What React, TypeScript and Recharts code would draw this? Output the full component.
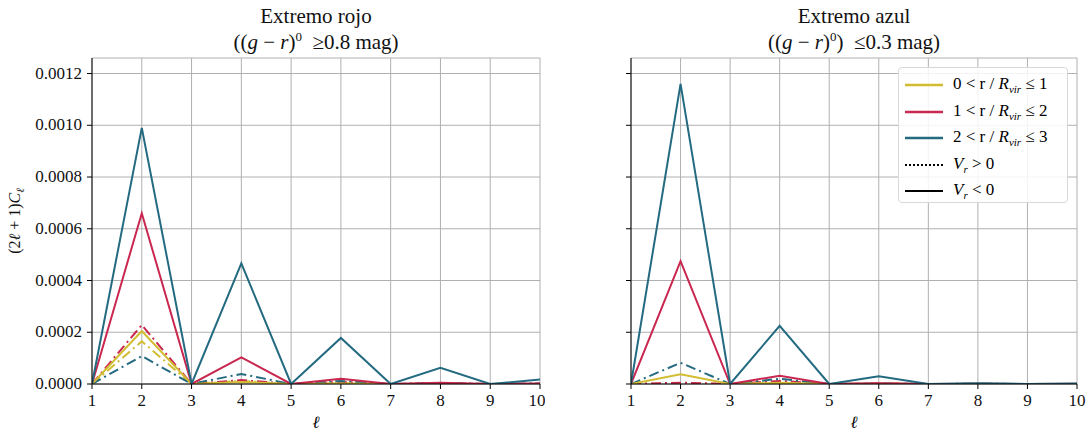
import React from "react";
import {
  LineChart,
  Line,
  XAxis,
  YAxis,
  CartesianGrid,
} from "recharts";

// multipolo l
const ells = [1, 2, 3, 4, 5, 6, 7, 8, 9, 10];
const yTicks = [0, 0.0002, 0.0004, 0.0006, 0.0008, 0.001, 0.0012];

// Extremo rojo
const rojoAmarilloNeg = [0, 0.000205, 0, 0.000008, 0, 0.000002, 0, 0.000001, 0, 0];
const rojoAmarilloPos = [0, 0.000165, 0, 0.000012, 0, 0.000003, 0, 0.000001, 0, 0];
const rojoRojoNeg = [0, 0.00066, 0, 0.000103, 0, 0.00002, 0, 0.000005, 0, 0.000002];
const rojoRojoPos = [0, 0.000228, 0, 0.000015, 0, 0.000008, 0, 0.000003, 0, 0.000001];
const rojoAzulNeg = [0, 0.00099, 0, 0.000466, 0, 0.000178, 0, 0.000063, 0, 0.000017];
const rojoAzulPos = [0, 0.000108, 0, 0.000039, 0, 0.000012, 0, 0.000004, 0, 0.000002];

// Extremo azul
const azulAmarilloNeg = [0, 0.000038, 0, 0.000005, 0, 0.000001, 0, 0, 0, 0];
const azulAmarilloPos = [0, 0.000003, 0, 0.000008, 0, 0.000001, 0, 0, 0, 0];
const azulRojoNeg = [0, 0.000475, 0, 0.000032, 0, 0.000003, 0, 0.000001, 0, 0.000001];
const azulRojoPos = [0, 0.000005, 0, 0.000012, 0, 0.000002, 0, 0, 0, 0];
const azulAzulNeg = [0, 0.00116, 0, 0.000225, 0, 0.00003, 0, 0.000003, 0, 0.000002];
const azulAzulPos = [0, 0.000082, 0, 0.00002, 0, 0.000002, 0, 0.000001, 0, 0];

const AMARILLO = "#d2bd32";
const ROJO = "#c9274f";
const AZUL = "#246a80";
const DASHDOT = "10 4 2 4";
const FONT = "'Liberation Serif', 'DejaVu Serif', serif";

const buildRows = (series: number[][]) =>
  ells.map((l, i) => ({
    l,
    ys: series[0][i],
    yd: series[1][i],
    rs: series[2][i],
    rd: series[3][i],
    ts: series[4][i],
    td: series[5][i],
  }));

const rojoData = buildRows([
  rojoAmarilloNeg,
  rojoAmarilloPos,
  rojoRojoNeg,
  rojoRojoPos,
  rojoAzulNeg,
  rojoAzulPos,
]);
const azulData = buildRows([
  azulAmarilloNeg,
  azulAmarilloPos,
  azulRojoNeg,
  azulRojoPos,
  azulAzulNeg,
  azulAzulPos,
]);

const lines = [
  { key: "yd", color: AMARILLO, dash: DASHDOT },
  { key: "rd", color: ROJO, dash: DASHDOT },
  { key: "td", color: AZUL, dash: DASHDOT },
  { key: "ys", color: AMARILLO, dash: undefined },
  { key: "rs", color: ROJO, dash: undefined },
  { key: "ts", color: AZUL, dash: undefined },
];

// ticks dibujados a mano para forzar la fuente serif
const XTick = ({ x, y, payload }: any) => (
  <text x={x} y={y + 15} textAnchor="middle" fontFamily={FONT} fontSize={17} fill="#111">
    {payload.value}
  </text>
);

const YTick = ({ x, y, payload }: any) => (
  <text x={x - 3} y={y + 5} textAnchor="end" fontFamily={FONT} fontSize={17} fill="#111">
    {Number(payload.value).toFixed(4)}
  </text>
);

const Panel = ({
  data,
  width,
  margin,
  showYLabels,
}: {
  data: any[];
  width: number;
  margin: { top: number; right: number; left: number; bottom: number };
  showYLabels: boolean;
}) => (
  <LineChart width={width} height={435} data={data} margin={margin}>
    <CartesianGrid stroke="#b0b0b0" strokeWidth={1} />
    <XAxis
      dataKey="l"
      type="number"
      domain={[1, 10]}
      ticks={ells}
      allowDataOverflow
      stroke="#000"
      tick={<XTick />}
      tickSize={5}
      height={51}
      label={{
        content: ({ viewBox }: any) => (
          <text
            x={viewBox.x + viewBox.width / 2}
            y={viewBox.y + 44}
            textAnchor="middle"
            fontFamily={FONT}
            fontSize={17}
            fontStyle="italic"
          >
            ℓ
          </text>
        ),
      }}
    />
    <XAxis
      xAxisId="top"
      dataKey="l"
      type="number"
      domain={[1, 10]}
      orientation="top"
      stroke="#000"
      tick={false}
      tickLine={false}
      height={0}
    />
    <YAxis
      type="number"
      domain={[0, 0.00126]}
      ticks={yTicks}
      allowDataOverflow
      stroke="#000"
      tickSize={5}
      width={showYLabels ? 92 : 86}
      tick={showYLabels ? <YTick /> : () => <g />}
      label={
        showYLabels
          ? {
              content: ({ viewBox }: any) => {
                const cx = 20;
                const cy = viewBox.y + viewBox.height / 2;
                return (
                  <text
                    x={cx}
                    y={cy}
                    transform={`rotate(-90, ${cx}, ${cy})`}
                    textAnchor="middle"
                    fontFamily={FONT}
                    fontSize={16}
                    fill="#111"
                  >
                    (2<tspan fontStyle="italic">ℓ</tspan> + 1)
                    <tspan fontStyle="italic">C</tspan>
                    <tspan fontStyle="italic" fontSize={11} dy={4}>
                      ℓ
                    </tspan>
                  </text>
                );
              },
            }
          : undefined
      }
    />
    <YAxis
      yAxisId="right"
      orientation="right"
      type="number"
      domain={[0, 0.00126]}
      stroke="#000"
      tick={false}
      tickLine={false}
      width={0}
    />
    {lines.map((s) => (
      <Line
        key={s.key}
        dataKey={s.key}
        type="linear"
        stroke={s.color}
        strokeWidth={2}
        strokeDasharray={s.dash}
        dot={false}
        activeDot={false}
        isAnimationActive={false}
      />
    ))}
  </LineChart>
);

const Title = ({ left, width, cond }: { left: number; width: number; cond: React.ReactNode }) => (
  <div
    style={{
      position: "absolute",
      left,
      top: 3,
      width,
      textAlign: "center",
      fontFamily: FONT,
      fontSize: 21,
      lineHeight: "26px",
      color: "#111",
    }}
  >
    {cond}
  </div>
);

const legendItems = [
  { color: AMARILLO, label: ["0 < r / ", "1"] },
  { color: ROJO, label: ["1 < r / ", "2"] },
  { color: AZUL, label: ["2 < r / ", "3"] },
];

const Leyenda = () => (
  <div
    style={{
      position: "absolute",
      left: 898,
      top: 67,
      width: 170,
      height: 136,
      border: "1px solid #d8d8d8",
      borderRadius: 4,
      background: "rgba(255,255,255,0.85)",
      boxSizing: "border-box",
      fontFamily: FONT,
      fontSize: 17,
    }}
  >
    {legendItems.map((it, i) => (
      <div key={i} style={{ position: "absolute", left: 0, top: 4 + i * 26.5, height: 26, display: "flex", alignItems: "center" }}>
        <svg width={54} height={26}>
          <line x1={6} x2={44} y1={13} y2={13} stroke={it.color} strokeWidth={2.5} />
        </svg>
        <span style={{ whiteSpace: "nowrap" }}>
          {it.label[0]}
          <i>R</i>
          <sub style={{ fontSize: 11, fontStyle: "italic" }}>vir</sub> ≤ {it.label[1]}
        </span>
      </div>
    ))}
    {[
      { dash: "2 2", text: "> 0" },
      { dash: undefined, text: "< 0" },
    ].map((it, i) => (
      <div key={i} style={{ position: "absolute", left: 0, top: 4 + (i + 3) * 26.5, height: 26, display: "flex", alignItems: "center" }}>
        <svg width={54} height={26}>
          <line x1={6} x2={44} y1={13} y2={13} stroke="#000" strokeWidth={2} strokeDasharray={it.dash} />
        </svg>
        <span style={{ whiteSpace: "nowrap" }}>
          <i>V</i>
          <sub style={{ fontSize: 11, fontStyle: "italic" }}>r</sub> {it.text}
        </span>
      </div>
    ))}
  </div>
);

export default function App() {
  return (
    <div
      style={{
        position: "absolute",
        left: 0,
        top: 0,
        width: 1091,
        height: 435,
        background: "#fff",
        overflow: "hidden",
        fontFamily: FONT,
      }}
    >
      <div style={{ position: "absolute", left: 0, top: 0 }}>
        <Panel data={rojoData} width={545} margin={{ top: 58, right: 5, left: 0, bottom: 0 }} showYLabels />
      </div>
      <div style={{ position: "absolute", left: 545, top: 0 }}>
        <Panel data={azulData} width={546} margin={{ top: 58, right: 14, left: 0, bottom: 0 }} showYLabels={false} />
      </div>
      <Title
        left={92}
        width={448}
        cond={
          <>
            Extremo rojo
            <br />
            ((<i>g</i> − <i>r</i>)<sup style={{ fontSize: 13, lineHeight: 0 }}>0</sup> &nbsp;≥0.8 mag)
          </>
        }
      />
      <Title
        left={631}
        width={446}
        cond={
          <>
            Extremo azul
            <br />
            ((<i>g</i> − <i>r</i>)<sup style={{ fontSize: 13, lineHeight: 0 }}>0</sup>) &nbsp;≤0.3 mag)
          </>
        }
      />
      <Leyenda />
    </div>
  );
}
